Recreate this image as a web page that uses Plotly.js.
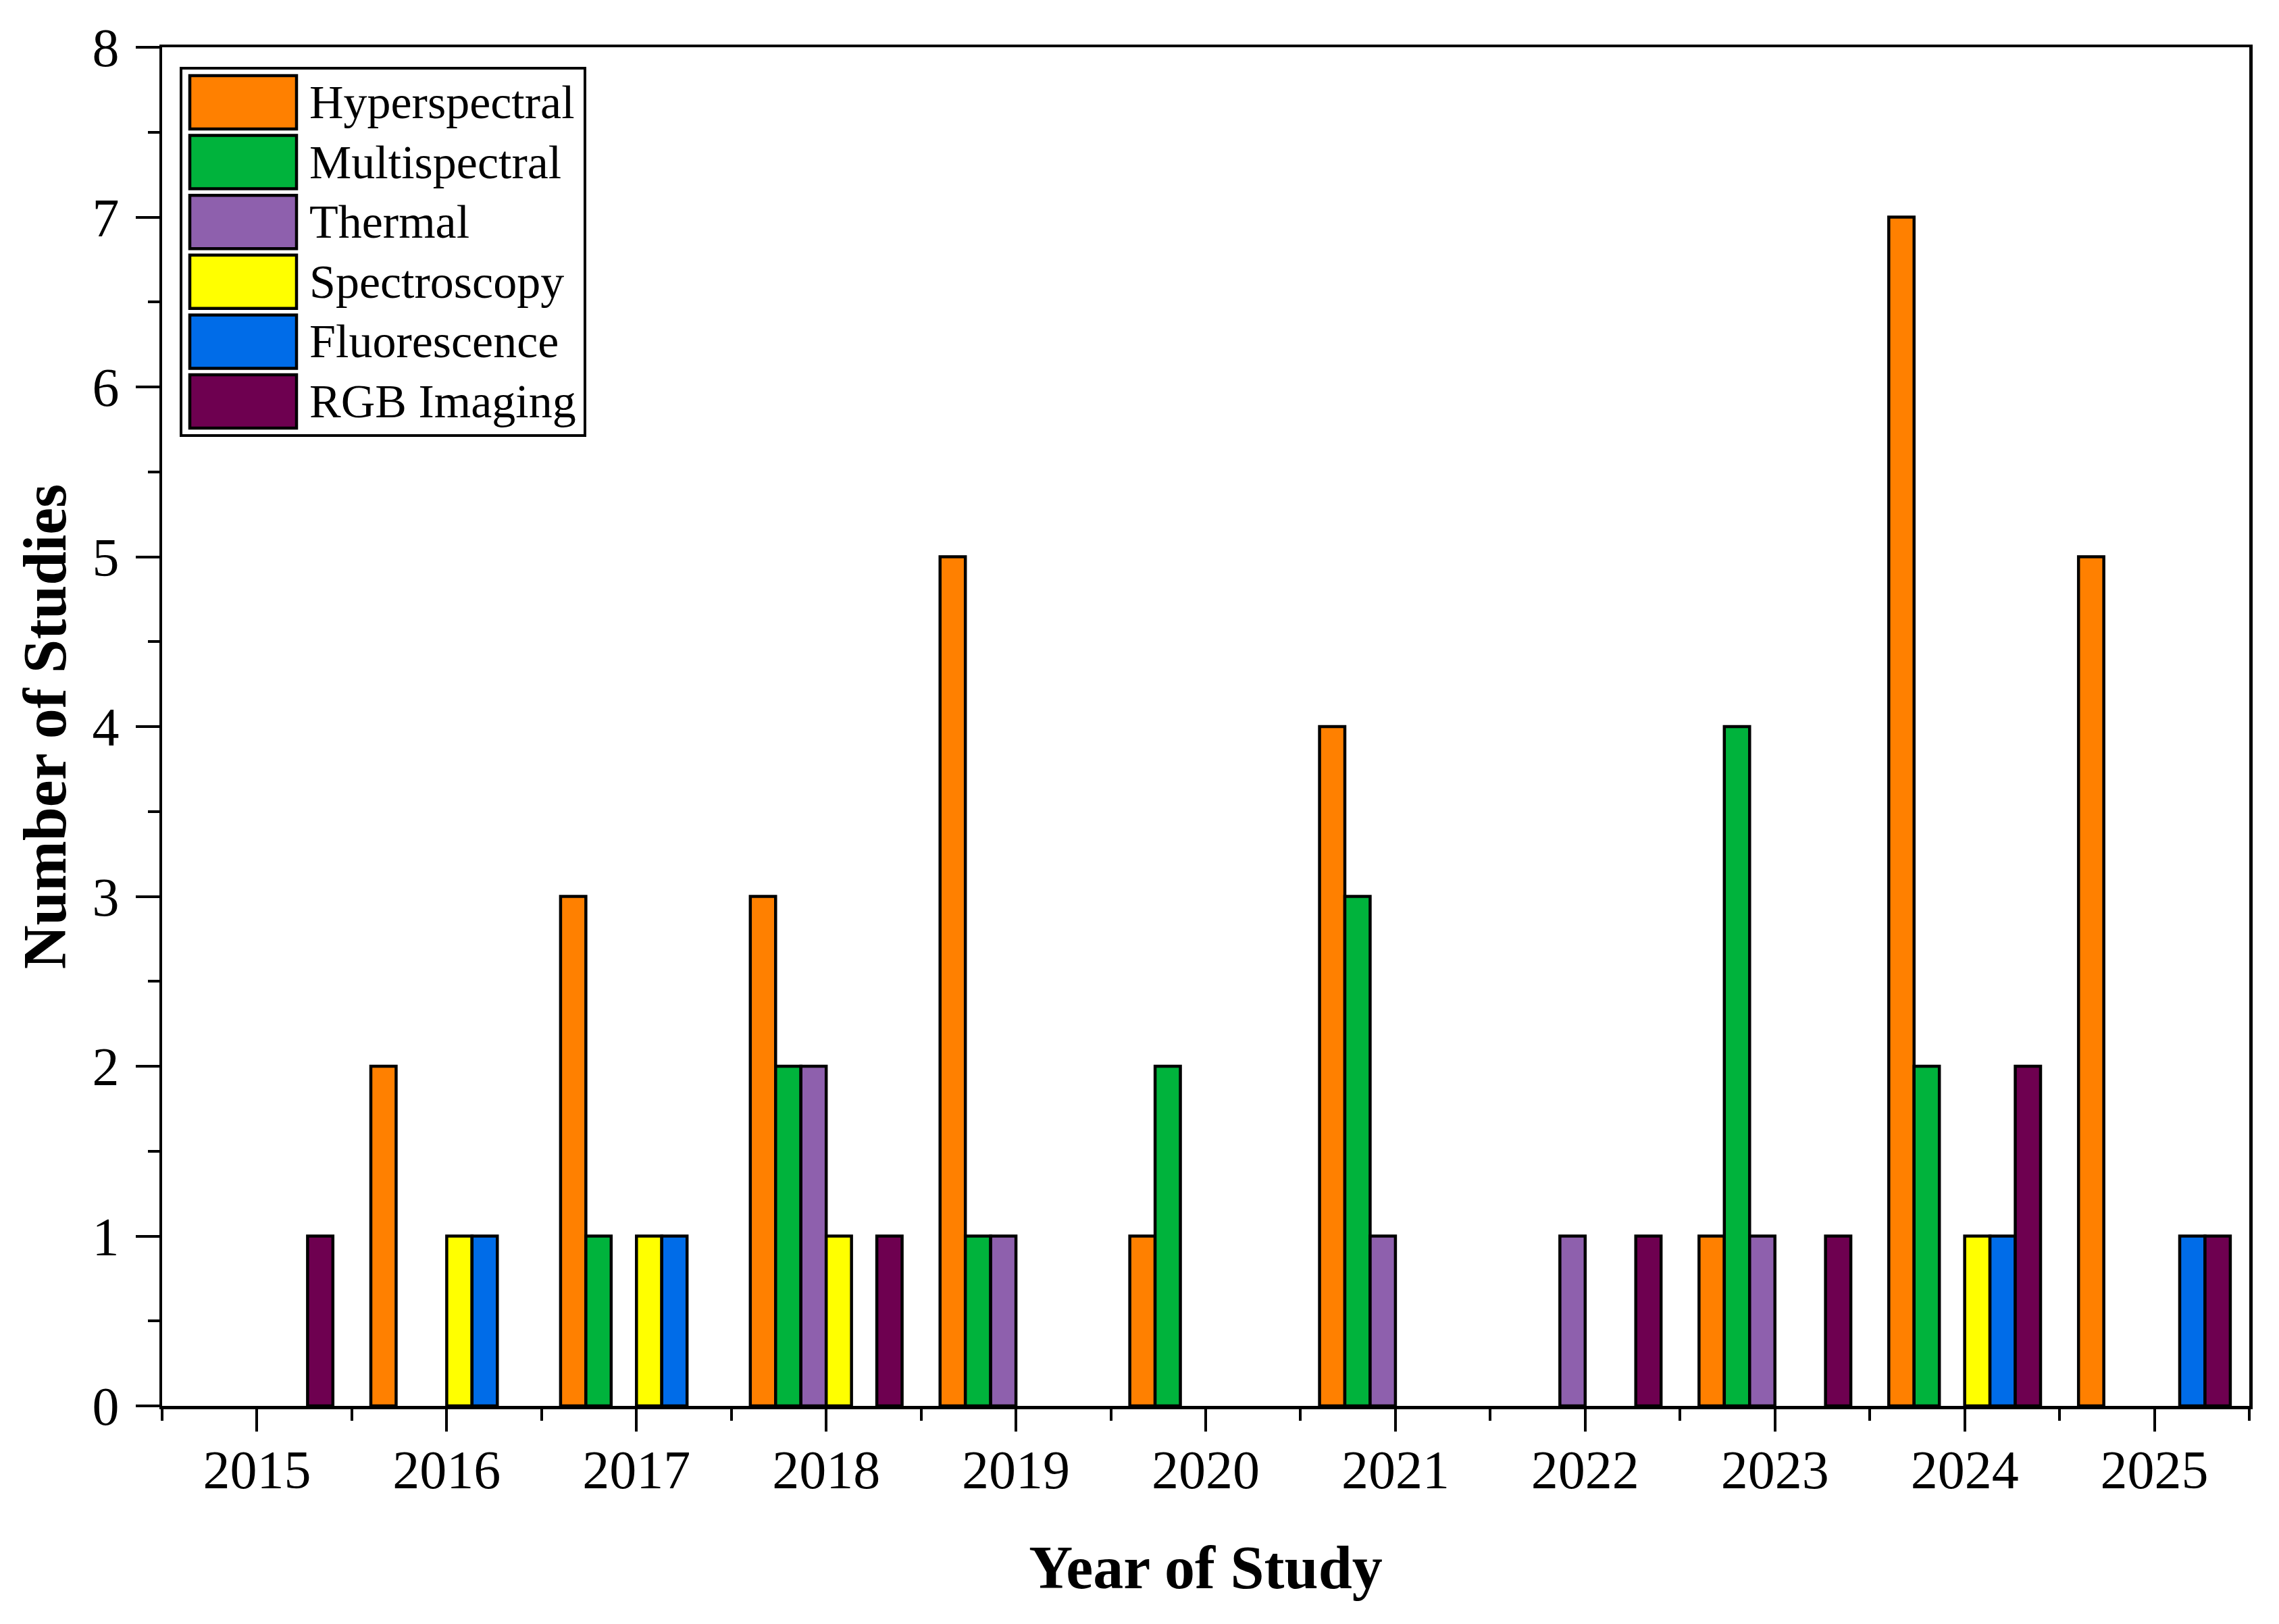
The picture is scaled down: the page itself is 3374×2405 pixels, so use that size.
<!DOCTYPE html>
<html>
<head>
<meta charset="utf-8">
<script src="https://cdn.plot.ly/plotly-3.0.1.min.js"></script>
<style>
  html, body { margin: 0; padding: 0; background: #ffffff; }
  #chart { width: 3374px; height: 2405px; }
</style>
</head>
<body>
<div id="chart"></div>
<script>
// ---- data ----
const years = [2015, 2016, 2017, 2018, 2019, 2020, 2021, 2022, 2023, 2024, 2025];
const seriesNames = ["Hyperspectral", "Multispectral", "Thermal", "Spectroscopy", "Fluorescence", "RGB Imaging"];
const hyperspectral = [0, 2, 3, 3, 5, 1, 4, 0, 1, 7, 5];
const multispectral = [0, 0, 1, 2, 1, 2, 3, 0, 4, 2, 0];
const thermal       = [0, 0, 0, 2, 1, 0, 1, 1, 1, 0, 0];
const spectroscopy  = [0, 1, 1, 1, 0, 0, 0, 0, 0, 1, 0];
const fluorescence  = [0, 1, 1, 0, 0, 0, 0, 0, 0, 1, 1];
const rgbImaging    = [1, 0, 0, 1, 0, 0, 0, 1, 1, 2, 1];
const yTickVals = [0, 1, 2, 3, 4, 5, 6, 7, 8];

// ---- styling ----
const colors = ["#FF8000", "#00B33C", "#8E60AD", "#FFFF00", "#006CE8", "#6E0050"];
const seriesValues = [hyperspectral, multispectral, thermal, spectroscopy, fluorescence, rgbImaging];
const FONT = "Liberation Serif, Times New Roman, serif";

const W = 3374, H = 2405;
const L = 240, R = 3330, T = 70, B = 2082;
const px2x = p => (p - L) / (R - L);
const px2y = p => 1 - (p - T) / (B - T);

const traces = seriesNames.map((name, i) => ({
  type: "bar",
  name: name,
  x: years,
  // zero counts leave an empty slot (no outline drawn on the axis)
  y: seriesValues[i].map(v => (v === 0 ? null : v)),
  marker: { color: colors[i], line: { color: "#000000", width: 4.5 } },
  showlegend: false,
  hoverinfo: "x+y+name"
}));

// manual legend (large swatches like the reference)
const shapes = [];
const annotations = [];
shapes.push({
  type: "rect", xref: "paper", yref: "paper",
  x0: px2x(268), x1: px2x(866), y0: px2y(101), y1: px2y(645),
  line: { color: "#000000", width: 4 }, fillcolor: "#ffffff", layer: "above"
});
seriesNames.forEach((name, i) => {
  const top = 112 + i * 88.6;
  shapes.push({
    type: "rect", xref: "paper", yref: "paper",
    x0: px2x(281), x1: px2x(439), y0: px2y(top), y1: px2y(top + 79),
    line: { color: "#000000", width: 4.5 }, fillcolor: colors[i], layer: "above"
  });
  annotations.push({
    xref: "paper", yref: "paper",
    x: px2x(456), y: px2y(top + 39.5),
    xanchor: "left", yanchor: "middle",
    text: name, showarrow: false,
    font: { family: FONT, size: 70, color: "#000000" }
  });
});

const layout = {
  width: W, height: H,
  margin: { l: L, r: W - R, t: T, b: H - B, pad: 0 },
  paper_bgcolor: "#ffffff", plot_bgcolor: "#ffffff",
  font: { family: FONT, color: "#000000" },
  barmode: "group", bargap: 0.2, bargroupgap: 0,
  showlegend: false,
  xaxis: {
    range: [2014.5, 2025.5],
    tickmode: "array", tickvals: years, ticktext: years.map(String),
    ticks: "outside", ticklen: 33, tickwidth: 4, tickcolor: "#000000",
    minor: { tick0: 2014.5, dtick: 1, ticks: "outside", ticklen: 17, tickwidth: 4, tickcolor: "#000000" },
    showline: true, linewidth: 4.5, linecolor: "#000000", mirror: true,
    showgrid: false, zeroline: false,
    tickfont: { family: FONT, size: 80, color: "#000000" },
    ticklabelstandoff: -12,
    title: { text: "Year of Study", font: { family: FONT, size: 90, color: "#000000", weight: "bold" }, standoff: 71 },
    automargin: false, fixedrange: true
  },
  yaxis: {
    range: [0, 8],
    tickmode: "array", tickvals: yTickVals,
    ticks: "outside", ticklen: 35, tickwidth: 4, tickcolor: "#000000",
    minor: { tick0: 0, dtick: 0.5, ticks: "outside", ticklen: 17, tickwidth: 4, tickcolor: "#000000" },
    showline: true, linewidth: 4.5, linecolor: "#000000", mirror: true,
    showgrid: false, zeroline: false,
    tickfont: { family: FONT, size: 80, color: "#000000" },
    ticklabelstandoff: 8,
    title: { text: "Number of Studies", font: { family: FONT, size: 90, color: "#000000", weight: "bold" }, standoff: 10 },
    automargin: false, fixedrange: true
  },
  shapes: shapes,
  annotations: annotations
};

Plotly.newPlot("chart", traces, layout, { displayModeBar: false, staticPlot: true });
</script>
</body>
</html>
